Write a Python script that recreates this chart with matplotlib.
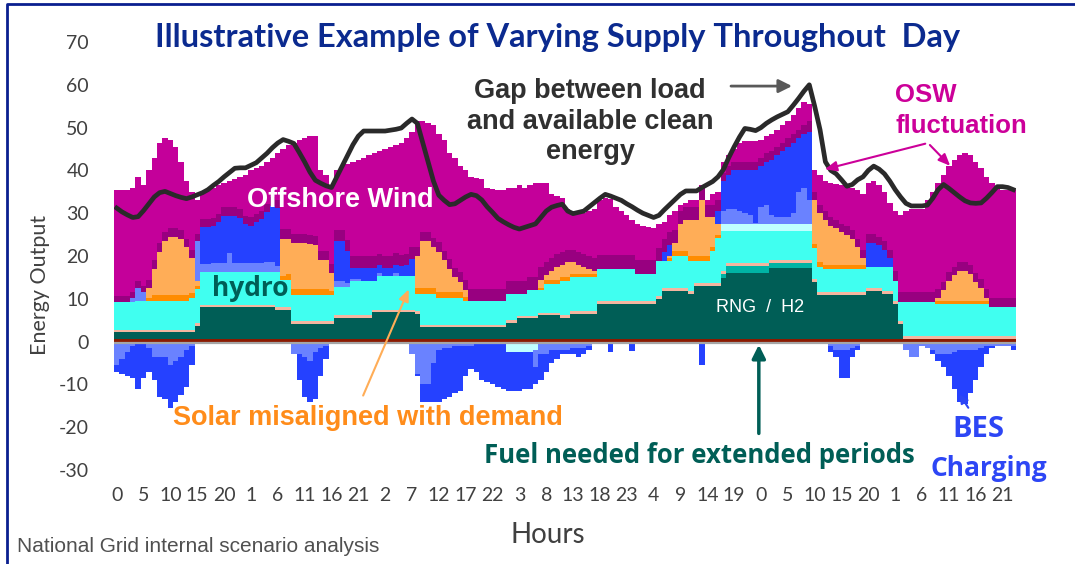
import numpy as np
import matplotlib.pyplot as plt
from matplotlib.lines import Line2D

plt.rcParams["axes.unicode_minus"] = False

# hourly values for one week (168 h), one row per day
nuclear = [0.6] * 168

rng_h2 = (
    [1.6, 1.6, 1.6, 1.6, 1.6, 1.6, 1.6, 1.6, 1.6, 1.6, 1.6, 1.6, 1.6, 1.6, 1.6, 3.1, 7.4, 7.4, 7.4, 7.4, 7.4, 7.4, 7.4, 7.4]
    + [7.4, 7.4, 7.4, 7.4, 7.4, 7.4, 6.9, 6.9, 6.9, 3.6, 3.6, 3.6, 3.6, 3.6, 3.6, 3.6, 3.6, 4.9, 4.9, 4.9, 4.9, 4.9, 4.9, 4.9]
    + [6.2, 6.2, 6.2, 6.2, 6.2, 6.2, 6.2, 6.2, 5.9, 2.7, 2.7, 2.7, 2.7, 2.7, 2.7, 2.7, 2.7, 2.7, 2.7, 2.7, 2.7, 2.7, 2.7, 2.7]
    + [2.7, 3.8, 3.8, 4.8, 4.8, 4.8, 4.8, 5.5, 5.5, 5.5, 5.5, 5.0, 5.0, 5.9, 5.9, 5.9, 5.9, 5.9, 8.3, 8.3, 8.3, 8.3, 8.3, 8.3]
    + [8.3, 8.3, 8.3, 8.3, 8.3, 9.4, 11.3, 11.3, 11.3, 11.3, 11.3, 10.6, 12.5, 12.5, 12.5, 12.5, 12.5, 14.3, 15.4, 15.4, 15.4, 15.4, 15.4, 15.4]
    + [15.4, 15.4, 16.7, 16.7, 16.7, 16.7, 16.7, 16.7, 16.7, 16.7, 13.4, 10.4, 10.4, 10.4, 10.4, 10.4, 10.4, 10.4, 10.4, 10.4, 11.3, 11.3, 11.3, 10.6]
    + [10.6, 8.3, 3.6, 0, 0, 0, 0, 0, 0, 0, 0, 0, 0, 0, 0, 0, 0, 0, 0, 0, 0, 0, 0, 0]
)

rng_other = (
    [0] * 96
    + [0, 0, 0, 0, 0, 0, 0, 0, 0, 0, 0, 0, 0, 0, 0, 0, 0, 0.9, 1.7, 1.7, 1.7, 1.7, 1.7, 1.7]
    + [1.7, 1.7, 1.1, 1.1, 1.1, 1.1, 1.1, 1.1, 1.1, 1.1, 0, 0, 0, 0, 0, 0, 0, 0, 0, 0, 0, 0, 0, 0]
    + [0] * 24
)

imports = [0.6] * 168

hydro = (
    [6.4, 6.4, 6.4, 6.4, 6.8, 6.8, 6.6, 6.6, 6.6, 6.6, 6.6, 6.6, 6.6, 6.6, 7.5, 8.0, 7.6, 7.6, 7.6, 7.6, 7.6, 7.6, 7.6, 7.6]
    + [7.6, 7.6, 7.6, 7.6, 7.6, 7.6, 8.1, 6.4, 6.4, 6.2, 6.2, 6.2, 6.2, 6.2, 6.2, 6.2, 6.2, 6.6, 6.6, 6.6, 8.1, 8.1, 8.1, 8.1]
    + [6.8, 7.9, 7.9, 7.9, 7.9, 7.9, 7.9, 7.9, 4.1, 7.3, 7.3, 7.3, 6.4, 6.4, 6.4, 6.4, 6.4, 5.7, 5.7, 5.7, 5.7, 5.7, 5.7, 5.7]
    + [5.7, 6.2, 6.2, 5.2, 5.2, 6.0, 6.0, 5.3, 6.8, 6.8, 6.8, 8.0, 8.0, 7.9, 7.9, 7.9, 7.9, 7.9, 7.5, 7.5, 7.5, 7.5, 7.5, 7.5]
    + [7.5, 6.3, 6.3, 6.3, 6.3, 8.3, 6.4, 6.4, 7.5, 7.5, 7.5, 7.1, 5.2, 5.2, 5.2, 7.5, 10.5, 9.5, 7.6, 7.6, 7.6, 7.6, 7.6, 7.6]
    + [7.6, 7.6, 6.9, 6.9, 6.9, 6.9, 6.9, 6.9, 6.9, 6.9, 7.3, 5.9, 5.4, 5.4, 5.4, 5.4, 5.4, 5.4, 5.4, 5.4, 5.0, 5.0, 5.0, 5.7]
    + [5.7, 4.7, 4.5, 8.1, 8.1, 8.1, 8.1, 8.1, 8.1, 7.7, 7.7, 7.7, 7.7, 7.7, 7.7, 7.7, 7.7, 7.7, 7.7, 6.8, 6.8, 6.8, 6.8, 6.8]
)

solar_btm = (
    [0, 0, 0, 0, 0, 0, 0.8, 1.5, 1.5, 1.5, 1.5, 1.5, 1.5, 1.5, 1.0, 0.8, 0, 0, 0, 0, 0, 0, 0, 0]
    + [0, 0, 0, 0, 0, 0, 0, 0.8, 1.3, 1.3, 1.3, 1.3, 1.3, 1.3, 1.3, 1.3, 0.8, 0, 0, 0, 0, 0, 0, 0]
    + [0, 0, 0, 0, 0, 0, 0, 0, 1.3, 1.3, 1.3, 1.3, 1.3, 1.3, 1.3, 1.3, 1.3, 0.8, 0, 0, 0, 0, 0, 0]
    + [0, 0, 0, 0, 0, 0, 0, 0.6, 0.9, 0.9, 0.9, 0.9, 0.9, 0.9, 0.9, 0.9, 0.9, 0.9, 0, 0, 0, 0, 0, 0]
    + [0, 0, 0, 0, 0, 0, 0, 0.6, 1.2, 1.2, 1.2, 1.2, 1.2, 1.2, 1.2, 1.0, 0.6, 0, 0, 0, 0, 0, 0, 0]
    + [0, 0, 0, 0, 0, 0, 0, 0, 0, 0, 1.0, 1.0, 1.0, 1.0, 1.0, 1.0, 1.0, 1.0, 1.0, 1.0, 0, 0, 0, 0]
    + [0, 0, 0, 0, 0, 0, 0, 0, 0, 0.7, 0.7, 0.7, 0.7, 0.7, 0.7, 0.7, 0.7, 0.7, 0.7, 0, 0, 0, 0, 0]
)

solar = (
    [0, 0, 0, 0, 0, 0, 2.3, 6.1, 10.1, 12.6, 13.6, 13.6, 13.1, 11.1, 8.2, 1.0, 0, 0, 0, 0, 0, 0, 0, 0]
    + [0, 0, 0, 0, 0, 0, 0, 8.7, 8.2, 10.7, 10.7, 10.7, 10.5, 10.2, 6.7, 6.7, 4.2, 0, 0, 0, 0, 0, 0, 0]
    + [0, 0, 0, 0, 0, 0, 0, 0, 7.5, 11.0, 11.0, 9.5, 9.4, 7.4, 5.4, 3.4, 2.4, 1.6, 0, 0, 0, 0, 0, 0]
    + [0, 0, 0, 0, 0, 0, 0, 1.9, 1.1, 2.1, 3.1, 2.9, 3.4, 2.6, 2.1, 1.6, 1.1, 0.6, 0, 0, 0, 0, 0, 0]
    + [0, 0, 0, 0, 0, 0, 0, 0.5, 1.8, 6.3, 7.3, 8.4, 8.4, 12.9, 8.9, 6.8, 2.7, 0, 0, 0, 0, 0, 0, 0]
    + [0, 0, 0, 0, 0, 0, 0, 0, 0, 0, 10.1, 11.5, 10.5, 9.0, 8.5, 7.5, 7.0, 6.0, 4.0, 1.5, 0, 0, 0, 0]
    + [0, 0, 0, 0, 0, 0, 0, 0, 0, 0.7, 2.4, 4.6, 5.9, 6.9, 6.9, 6.2, 4.4, 3.0, 0.7, 0, 0, 0, 0, 0]
)

storage_other = (
    [0] * 96
    + [0, 0, 0, 0, 0, 0, 0, 0, 0, 0, 0, 0, 0, 0, 0, 0, 0, 1.6, 1.6, 1.6, 1.6, 1.6, 1.6, 1.6]
    + [1.6, 1.6, 1.6, 1.6, 1.6, 1.6, 1.6, 1.6, 1.6, 1.6, 0, 0, 0, 0, 0, 0, 0, 0, 0, 0, 0, 0, 0, 0]
    + [0] * 24
)

bes_short = (
    [0, 0, 0, 1.0, 3.0, 2.0, 0, 0, 0, 0, 0, 0, 0, 0, 0, 9.5, 2.0, 2.0, 2.2, 2.2, 2.2, 4.5, 2.2, 2.2]
    + [2.2, 2.2, 2.2, 2.2, 2.5, 2.5, 1.5, 0, 0, 0, 0, 0, 0, 0, 0, 0, 0, 1.5, 1.5, 1.0, 0.5, 0.5, 0, 0]
    + [0, 0.7, 0, 0, 0.7, 0, 0, 0, 0, 0, 0, 0, 0, 0, 0, 0, 0, 0, 0, 0, 0, 0, 0, 0]
    + [0] * 24
    + [0, 0, 0, 0, 0, 0, 0, 0, 0, 0, 0, 0, 0, 0, 0, 0, 0, 3.0, 3.5, 3.5, 3.0, 2.5, 2.0, 0.3]
    + [4.0, 4.5, 2.0, 1.5, 1.5, 1.5, 2.5, 7.5, 8.5, 5.5, 0, 0, 0, 0, 0, 0, 0, 0, 0, 0, 0, 0, 0, 0]
    + [0] * 24
)

bes_long = (
    [0, 0, 0, 0, 0, 0, 0, 0, 0, 0, 0, 0, 0, 0, 0, 0, 8.5, 8.5, 8.5, 9.5, 11.0, 8.7, 11.0, 10.5]
    + [9.0, 8.6, 9.5, 10.2, 11.5, 13.0, 13.5, 0, 0, 0, 0, 0, 0, 0, 0, 0, 0, 9.3, 9.3, 7.5, 2.5, 2.5, 3.0, 3.0]
    + [3.0, 1.8, 2.0, 2.0, 2.0, 2.3, 2.5, 4.0, 0, 0, 0, 0, 0, 0, 0, 0, 0, 0, 0, 0, 0, 0, 0, 0]
    + [0] * 24
    + [0, 0, 0, 0, 0, 0, 2.0, 2.5, 0, 0, 0, 0, 0, 0, 0, 0, 3.0, 7.0, 8.0, 9.0, 9.5, 10.0, 10.5, 12.2]
    + [9.5, 10.0, 13.0, 14.5, 15.5, 16.5, 16.5, 12.5, 12.5, 16.0, 0, 0, 0, 0, 0, 0, 0, 0, 0, 0, 5.6, 5.6, 5.0, 4.0]
    + [2.0, 0, 0, 0, 0, 0, 0, 0, 0, 0, 0, 0, 0, 0, 0, 0, 0, 0, 0, 0, 0, 0, 0, 0]
)

onshore_wind = (
    [1.5, 1.5, 1.5, 1.5, 1.5, 1.5, 2, 2, 2, 2, 2, 2, 2, 2, 2, 1.5, 2, 2, 2, 2, 2, 2, 2, 2]
    + [2, 2, 2, 2, 2, 2, 2, 2.2, 2.2, 2.2, 2.2, 2.2, 2.2, 2.2, 2.2, 2.2, 2.2, 2.5, 2.5, 2.5, 2.7, 2.7, 2.7, 2.7]
    + [2.7, 2.7, 2.7, 2.7, 2.7, 2.7, 2.7, 2.7, 2.2, 2.2, 2.2, 2.2, 2.2, 2.2, 2.2, 2.2, 2.2, 2.5, 2.8, 2.8, 2.8, 2.8, 2.8, 2.8]
    + [2.8, 3.0, 3.0, 3.0, 3.0, 3.0, 3.0, 3.0, 3.0, 3.0, 3.0, 3.0, 3.0, 3.0, 3.0, 3.0, 3.0, 3.0, 3.3, 3.3, 3.3, 3.3, 3.3, 3.3]
    + [3.3, 3.3, 3.3, 3.3, 3.3, 3.0, 3.0, 3.0, 3.0, 3.0, 3.0, 3.0, 3.0, 3.0, 3.0, 3.0, 2.5, 2.0, 2.0, 2.0, 2.0, 2.0, 2.0, 2.0]
    + [2.0, 2.0, 2.0, 2.0, 2.0, 2.0, 2.0, 2.0, 2.0, 2.5, 2.0, 2.0, 2.0, 2.0, 2.0, 2.0, 2.0, 2.0, 2.0, 2.0, 2.0, 2.0, 2.0, 2.0]
    + [2.0, 2.3, 2.3, 2.3, 2.3, 2.3, 2.3, 2.3, 2.3, 2.0, 2.0, 2.0, 2.0, 2.0, 2.0, 2.0, 2.0, 2.0, 2.0, 2.3, 2.3, 2.3, 2.3, 2.3]
)

offshore_wind = (
    [24.8, 24.8, 24.8, 24.1, 24.4, 23.4, 25.5, 24.0, 23.5, 22.0, 20.5, 19.0, 16.0, 13.5, 13.5, 7.9, 5.8, 6.8, 7.1, 6.6, 5.6, 6.1, 6.6, 7.6]
    + [9.6, 11.0, 10.6, 10.4, 9.8, 9.3, 10.8, 18.8, 19.8, 21.3, 21.8, 22.3, 23.0, 23.3, 18.8, 17.8, 18.3, 14.0, 15.0, 17.8, 22.1, 22.6, 23.1, 23.6]
    + [24.1, 24.0, 25.0, 25.5, 25.3, 26.2, 27.0, 27.0, 29.3, 25.8, 25.3, 26.3, 25.3, 25.8, 24.8, 25.8, 24.8, 25.5, 26.1, 25.9, 25.6, 23.6, 23.3, 23.1]
    + [23.1, 21.8, 21.8, 22.3, 21.8, 21.5, 22.0, 19.5, 18.5, 15.0, 13.5, 12.5, 9.5, 9.0, 9.5, 9.5, 10.5, 11.5, 12.7, 13.2, 13.0, 11.2, 10.2, 9.2]
    + [8.2, 8.4, 7.9, 7.6, 7.4, 5.6, 4.1, 4.0, 4.5, 1.5, 1.0, 1.5, 1.5, 0.5, 1.0, 2.5, 2.0, 2.5, 2.5, 3.0, 4.5, 4.8, 4.8, 4.8]
    + [4.0, 4.0, 4.0, 4.0, 4.0, 4.0, 4.5, 5.0, 5.5, 4.0, 5.0, 7.0, 7.0, 8.0, 8.3, 9.0, 9.5, 10.0, 11.5, 13.0, 11.9, 12.4, 12.0, 11.5]
    + [11.0, 14.0, 17.9, 18.9, 19.4, 19.4, 19.4, 21.4, 23.4, 24.7, 25.0, 24.8, 25.0, 25.0, 25.5, 25.7, 26.0, 25.9, 26.2, 26.7, 25.7, 25.2, 25.2, 25.2]
)

# charging (negative)
charge_other = (
    [0] * 72
    + [0, -2.5, -2.5, -2.5, -2.5, -2.5, -2.0, 0, 0, 0, 0, 0, 0, 0, 0, 0, 0, 0, 0, 0, 0, 0, 0, 0]
    + [0] * 72
)

charge_short = (
    [-5.5, -4, -2.5, -1, 0, 0, -1.5, -3.5, -3.5, -3.5, -5.5, -4.5, -3.5, -2, -1, 0, 0, 0, 0, 0, 0, 0, 0, 0]
    + [0, 0, 0, 0, 0, 0, 0, 0, 0, -3, -3, -3.5, -4.5, -2.5, -1.5, -1, 0, 0, 0, 0, 0, 0, 0, 0]
    + [0, 0, 0, 0, 0, 0, 0, -3, -7.5, -10, -10, -5, -2, -1.5, -1.5, -1, -1, -1, -1, -0.5, -0.5, 0, 0, 0]
    + [0, 0, 0, 0, 0, 0, -4, -3, -3, -2, -2, -2, -2, -1.5, -1.5, -1.5, -1, 0, 0, 0, 0, 0, 0, 0]
    + [0] * 24
    + [0, 0, 0, 0, 0, 0, 0, 0, 0, 0, 0, 0, 0, -1, -2, -2, -2, -1.5, -1, 0, 0, 0, 0, 0]
    + [0, 0, 0, -2, -3.5, -3.5, -1, -1.5, -2, -3, -3, -3, -2.5, -2, -2, -2, -2, -1.5, -1, -1, -1, -1, -1, -1]
)

charge_long = (
    [-1.7, -3.5, -5.5, -7.5, -11, -8.5, -5.5, -5.5, -9.5, -10, -10, -9.5, -9, -8.5, -4.5, 0, 0, 0, 0, 0, 0, 0, 0, 0]
    + [0, 0, 0, 0, 0, 0, 0, 0, 0, 0, -6, -9.5, -9.5, -11, -6.5, -3, 0, 0, 0, 0, 0, 0, 0, 0]
    + [0, 0, 0, 0, 0, 0, 0, 0, -0.5, -4, -4, -9, -12, -12, -11.5, -11, -10.5, -7, -5.5, -6.5, -8.5, -9.5, -10, -10.5]
    + [-11, -9, -9, -9, -8.5, -8.5, -4, -6, -4, -3, -2, -1, -1, -1.5, -2, -1.5, -1, 0, 0, 0, -2.5, 0, 0, 0]
    + [-2.2, 0, 0, 0, 0, 0, 0, 0, 0, 0, 0, 0, -0.5, -5.5, 0, 0, 0, 0, 0, 0, 0, 0, 0, 0]
    + [0, 0, 0, 0, 0, 0, 0, 0, 0, 0, 0, 0, 0, -1.5, -1.5, -6.4, -6.4, -2, -1, 0, 0, 0, 0, 0]
    + [0, 0, 0, 0, 0, 0, 0, 0, -1, -1.5, -3, -5, -8.5, -12, -12.5, -10, -7, -4.5, -2, -0.5, 0, 0, 0, -1]
)

load_gap = (
    [31.2, 30.3, 29.6, 29.0, 29.2, 30.6, 32.2, 33.8, 34.8, 35.1, 34.6, 34.1, 33.7, 33.4, 33.8, 34.3, 34.8, 35.5, 36.5, 37.4, 38.5, 39.5, 40.5, 40.6]
    + [40.6, 41.2, 41.8, 42.9, 44.0, 45.3, 46.4, 47.2, 46.8, 46.3, 44.2, 42.0, 39.6, 37.7, 37.0, 36.4, 36.0, 38.5, 41.0, 43.5, 46.0, 48.0, 49.2, 49.2]
    + [49.2, 49.2, 49.2, 49.4, 49.6, 49.9, 51.0, 52.0, 51.0, 46.5, 42.0, 37.5, 34.2, 33.0, 32.0, 32.2, 33.0, 33.8, 34.4, 34.1, 33.1, 31.5, 30.2, 28.8]
    + [28.0, 27.3, 26.7, 26.3, 26.7, 27.1, 27.5, 29.0, 30.5, 31.4, 31.8, 32.1, 30.5, 29.9, 30.2, 30.5, 31.5, 32.5, 33.5, 34.4, 34.0, 33.5, 33.0, 32.2]
    + [31.5, 30.7, 30.0, 29.5, 29.0, 29.5, 30.8, 32.0, 33.2, 34.4, 35.2, 35.2, 35.2, 36.0, 36.7, 37.4, 38.5, 40.2, 43.0, 45.5, 47.8, 49.8, 49.6, 49.3]
    + [50.0, 51.0, 51.8, 52.5, 53.1, 53.7, 55.2, 56.8, 58.5, 60.0, 55.0, 49.5, 42.0, 40.0, 39.2, 37.8, 36.3, 36.7, 37.8, 38.5, 40.0, 41.0, 40.3, 39.2]
    + [37.5, 35.5, 33.8, 32.3, 31.7, 31.7, 31.7, 31.9, 33.5, 35.5, 36.7, 35.8, 34.8, 33.8, 32.9, 32.4, 32.3, 32.4, 33.5, 34.8, 36.2, 36.2, 36.0, 35.5]
)

hours = np.arange(168)
tick_hours = hours[::5]
tick_labels = [str(h % 24) for h in tick_hours]
y_ticks = [-30, -20, -10, 0, 10, 20, 30, 40, 50, 60, 70]

supply = [
    (nuclear, "#8b1a00"),
    (rng_h2, "#005e56"),
    (rng_other, "#00b3a4"),
    (imports, "#f4b6a0"),
    (hydro, "#40fff0"),
    (solar_btm, "#ff8c00"),
    (solar, "#ffad57"),
    (storage_other, "#c0ffff"),
    (bes_short, "#6a82ff"),
    (bes_long, "#2541ff"),
    (onshore_wind, "#980080"),
    (offshore_wind, "#c4009a"),
]
charging = [
    (charge_other, "#c0ffff"),
    (charge_short, "#6a82ff"),
    (charge_long, "#2541ff"),
]


def steps(v):
    v = np.asarray(v, dtype=float)
    return np.append(v, v[-1])


fig = plt.figure(figsize=(10.75, 5.64), dpi=100)
ax = fig.add_axes([114 / 1075, 94 / 564, 902 / 1075, 428 / 564])
edges = np.arange(len(hours) + 1) - 0.5

for stack in (supply, charging):
    bottom = np.zeros(len(hours))
    for vals, color in stack:
        top = bottom + np.asarray(vals, dtype=float)
        ax.fill_between(edges, steps(bottom), steps(top), step="post",
                        color=color, lw=0, antialiased=False, zorder=2)
        bottom = top

ax.axhline(-0.25, color="#a6a6a6", lw=1.6, zorder=3)
ax.plot(hours, load_gap, color="#2a2a2a", lw=3.4, solid_joinstyle="round", zorder=5)

ax.set_xlim(-0.5, 167.5)
ax.set_ylim(-30, 70)
ax.set_xticks(tick_hours)
ax.set_xticklabels(tick_labels)
ax.set_yticks(y_ticks)
ax.tick_params(length=0, labelsize=14, labelcolor="#404040")
ax.tick_params(axis="y", pad=18)
ax.tick_params(axis="x", pad=12)
for lab in ax.get_xticklabels() + ax.get_yticklabels():
    lab.set_family("Lato")
for s in ax.spines.values():
    s.set_visible(False)

# labels inside the chart
bold = dict(fontweight="bold", ha="center", va="center", zorder=6)
ax.text(41.6, 33.1, "Offshore Wind", color="white", fontsize=19.5, family="Liberation Sans", **bold)
ax.text(24.8, 12.3, "hydro", color="#005e56", fontsize=19, family="Open Sans", **bold)
ax.text(119.8, 7.9, "RNG  /  H2", color="white", fontsize=13, family="Liberation Sans",
        ha="center", va="center", zorder=6)
ax.text(88.2, 51.4, "Gap between load\nand available clean\nenergy", color="#303030", fontsize=19.5,
        family="Liberation Sans", linespacing=1.22, **bold)
ax.text(145.0, 54.0, "OSW\nfluctuation", color="#cc0099", fontsize=18.5, family="Liberation Sans",
        fontweight="bold", ha="left", va="center", linespacing=1.32, zorder=6)
ax.text(46.8, -17.9, "Solar misaligned with demand", color="#ff8c1a", fontsize=19.5,
        family="Liberation Sans", **bold)
ax.text(108.5, -26.5, "Fuel needed for extended periods", color="#005e56", fontsize=18.5,
        family="Open Sans", **bold)
ax.text(160.5, -20.6, "BES", color="#2d46f5", fontsize=21, family="Open Sans", **bold)
ax.text(162.5, -29.7, "Charging", color="#2d46f5", fontsize=19, family="Open Sans", **bold)

# arrows
ax.annotate("", xy=(126.3, 59.7), xytext=(113.9, 59.7),
            arrowprops=dict(arrowstyle="-|>,head_length=0.8,head_width=0.4", color="#595959", lw=2), zorder=6)
for tip in [(131.4, 40.1), (155.6, 40.6)]:
    ax.annotate("", xy=tip, xytext=(151.1, 46.4),
                arrowprops=dict(arrowstyle="-|>,head_length=0.7,head_width=0.3", color="#cc0099", lw=1.5),
                zorder=6)
ax.annotate("", xy=(54.6, 12.8), xytext=(45.7, -13.2),
            arrowprops=dict(arrowstyle="-|>,head_length=0.7,head_width=0.3", color="#ffad57", lw=1.5), zorder=6)
ax.annotate("", xy=(119.6, -0.1), xytext=(119.6, -22.1),
            arrowprops=dict(arrowstyle="-|>,head_length=0.8,head_width=0.4", color="#005e56", lw=2.5), zorder=6)
ax.annotate("", xy=(156.7, -11.8), xytext=(158.9, -16.0),
            arrowprops=dict(arrowstyle="-|>,head_length=0.5,head_width=0.25", color="#2d46f5", lw=1.5), zorder=6)

# titles and axis labels
fig.text(558 / 1075, 1 - 38 / 564, "Illustrative Example of Varying Supply Throughout  Day",
         color="#0b2a8f", fontsize=23.5, fontweight="bold", family="Lato", ha="center", va="center")
fig.text(548 / 1075, 1 - 535 / 564, "Hours", color="#404040", fontsize=20, family="Lato",
         ha="center", va="center")
fig.text(40 / 1075, 1 - 285 / 564, "Energy Output", color="#404040", fontsize=15.5, family="Lato",
         rotation=90, ha="center", va="center")
fig.text(17 / 1075, 1 - 546 / 564, "National Grid internal scenario analysis", color="#505050",
         fontsize=15, family="Liberation Sans", ha="left", va="center")

# frame of the slide
fig.add_artist(Line2D([7 / 1075, 7 / 1075, 1], [0, 1 - 4 / 564, 1 - 4 / 564],
                      transform=fig.transFigure, color="#0a1f8f", lw=2))

fig.savefig("out.png", dpi=100)
